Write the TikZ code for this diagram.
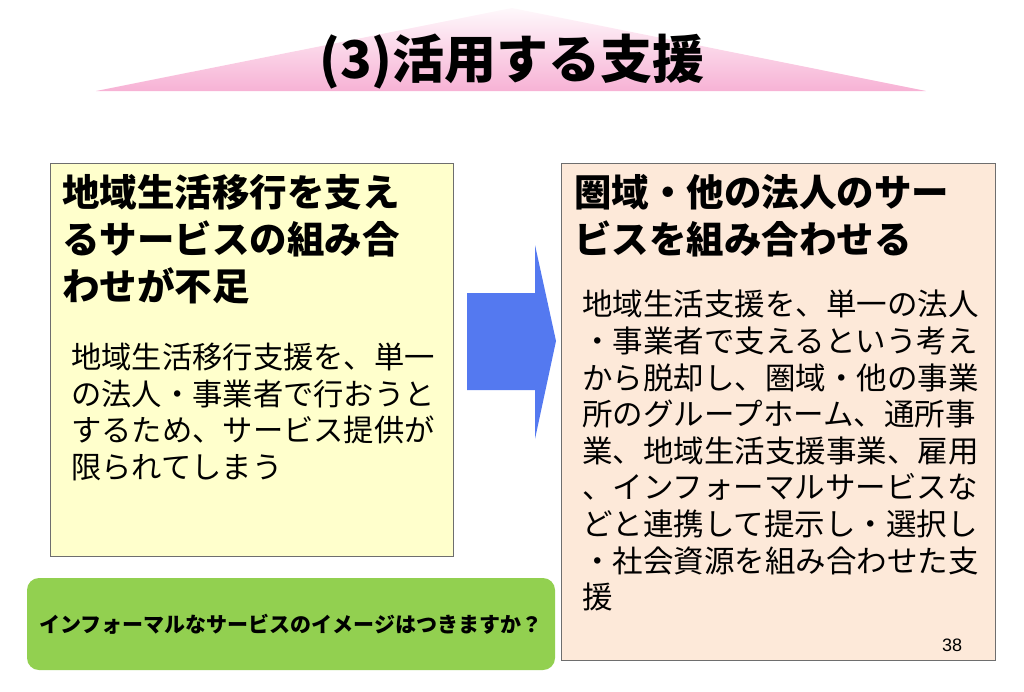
\documentclass[tikz,border=0pt]{standalone}
\usepackage{fontspec}
\setmainfont{Liberation Sans}
\newfontfamily\jp{Noto Sans CJK JP}
\usetikzlibrary{positioning}
\definecolor{titlepink}{RGB}{247,178,213}
\definecolor{leftfill}{RGB}{255,255,204}
\definecolor{rightfill}{RGB}{253,233,217}
\definecolor{boxline}{RGB}{110,110,110}
\definecolor{arrowblue}{RGB}{84,121,240}
\definecolor{askgreen}{RGB}{146,208,80}
\tikzset{
  panel/.style={draw=boxline, line width=0.9, anchor=north west, inner sep=0},
  headtext/.style={anchor=north west, inner sep=0, align=left, font=\jp\bfseries\fontsize{37.5}{47}\selectfont},
  bodytext/.style={anchor=north west, inner sep=0, align=left, font=\jp\fontsize{30.3}{36.5}\selectfont},
}
\begin{document}
\begin{tikzpicture}[x=1pt,y=-1pt]
\useasboundingbox (0,0) rectangle (1024,691);

% title band
\begin{scope}
  \clip (96,91) -- (512,8) -- (926,91) -- cycle;
  \shade[top color=white, middle color=white, bottom color=titlepink] (96,0) rectangle (926,91);
\end{scope}
\node [font=\jp\bfseries\fontsize{52}{60}\selectfont] (title) at (512,62) {(3)活用する支援};

% left panel
\node [panel, fill=leftfill, minimum width=403, minimum height=393] (left) at (50,163) {};
\node [headtext] (lhead) at (62,174) {地域生活移行を支え\\るサービスの組み合\\わせが不足};
\node [bodytext] (lbody) at (71,343) {地域生活移行支援を、単一\\の法人・事業者で行おうと\\するため、サービス提供が\\限られてしまう};

% right panel
\node [panel, fill=rightfill, minimum width=434, minimum height=497] (right) at (561,163) {};
\node [headtext] (rhead) at (574,174) {圏域・他の法人のサー\\ビスを組み合わせる};
\node [bodytext, font=\jp\fontsize{30.5}{36.6}\selectfont] (rbody) at (582,290) {地域生活支援を、単一の法人\\・事業者で支えるという考え\\から脱却し、圏域・他の事業\\所のグループホーム、通所事\\業、地域生活支援事業、雇用\\、インフォーマルサービスな\\どと連携して提示し・選択し\\・社会資源を組み合わせた支\\援};
\node [font=\fontsize{18}{20}\selectfont] (page) at (952,645) {38};

% arrow between panels
\fill[arrowblue] (467,293) -- (535,293) -- (535,245) -- (556,341) -- (535,439) -- (535,390) -- (467,390) -- cycle;

% question
\node [fill=askgreen, rounded corners=12, minimum width=528, minimum height=92, font=\jp\bfseries\fontsize{21}{24}\selectfont] (ask) at (291,624) {インフォーマルなサービスのイメージはつきますか？};
\end{tikzpicture}
\end{document}
